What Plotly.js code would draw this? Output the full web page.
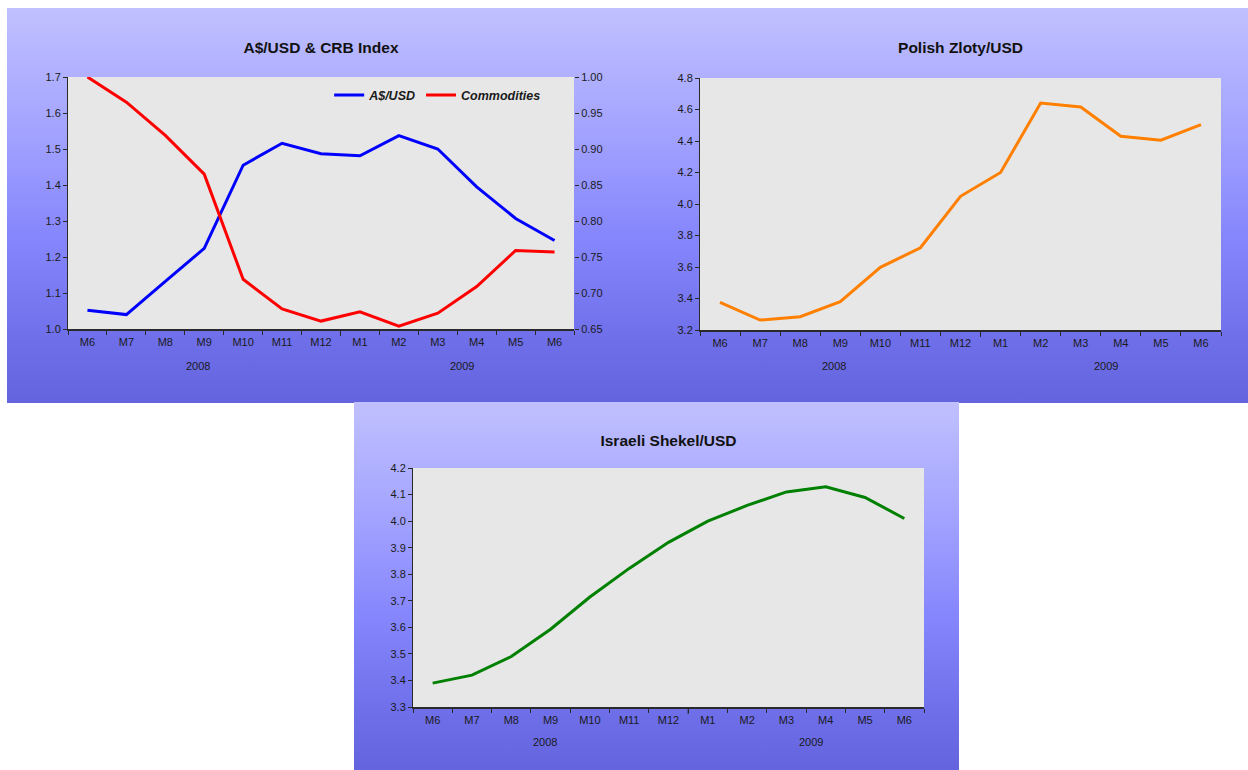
<!DOCTYPE html>
<html>
<head>
<meta charset="utf-8">
<script src="https://cdn.plot.ly/plotly-3.0.1.min.js"></script>
<style>
  html, body { margin: 0; padding: 0; background: #ffffff; width: 1248px; height: 770px; overflow: hidden; }
  .panel {
    position: absolute;
    background: linear-gradient(to bottom, #c0c0ff 0%, #a4a4ff 30%, #8686fd 58%, #6e6ee9 85%, #6464df 100%);
  }
  #p1 { left: 7px; top: 8px; width: 613px; height: 395px; }
  #p2 { left: 620px; top: 8px; width: 628px; height: 395px; }
  #p3 { left: 354px; top: 402px; width: 605px; height: 368px; }
</style>
</head>
<body>
<div id="p1" class="panel"></div>
<div id="p2" class="panel"></div>
<div id="p3" class="panel"></div>
<script>
// Monthly observations, June 2008 – June 2009
const months = ['M6', 'M7', 'M8', 'M9', 'M10', 'M11', 'M12', 'M1', 'M2', 'M3', 'M4', 'M5', 'M6'];
const years = ['2008', '2009'];

// Australian dollars per US dollar
const audUsd = [1.052, 1.040, 1.132, 1.224, 1.455, 1.516, 1.487, 1.481, 1.537, 1.500, 1.395, 1.307, 1.246];
// CRB commodity index, rebased (June 2008 = 1.00)
const commodities = [1.000, 0.965, 0.919, 0.865, 0.719, 0.678, 0.661, 0.674, 0.654, 0.672, 0.709, 0.759, 0.757];
// Polish zloty per US dollar
const plnUsd = [3.375, 3.263, 3.284, 3.380, 3.598, 3.722, 4.049, 4.200, 4.641, 4.616, 4.430, 4.405, 4.504];
// Israeli shekel per US dollar
const ilsUsd = [3.390, 3.420, 3.490, 3.593, 3.714, 3.822, 3.920, 4.000, 4.059, 4.110, 4.129, 4.089, 4.010];

const idx = months.map((_, i) => i);
const yearBreak = months.indexOf('M1') - 0.5;
const FONT = 'Liberation Sans, Arial, Helvetica, sans-serif';
const INK = '#1a1a1a';
const AXIS = '#2a2a2a';

function xAxis() {
  return {
    range: [-0.5, months.length - 0.5],
    tickmode: 'array',
    tickvals: idx,
    ticktext: months,
    ticks: '',
    ticklabelstandoff: 2,
    showline: true,
    linecolor: AXIS,
    linewidth: 2,
    showgrid: false,
    zeroline: false,
    fixedrange: true,
    tickfont: { family: FONT, size: 11, color: INK },
    minor: { tick0: -0.5, dtick: 1, ticks: 'outside', ticklen: 4, tickwidth: 1, tickcolor: AXIS, showgrid: false }
  };
}

function yAxis(lo, hi, step, fmt) {
  return {
    range: [lo, hi],
    tick0: lo,
    dtick: step,
    tickformat: fmt,
    ticks: 'outside',
    ticklen: 4,
    tickwidth: 1,
    tickcolor: AXIS,
    showline: true,
    linecolor: AXIS,
    linewidth: 1,
    showgrid: false,
    zeroline: false,
    fixedrange: true,
    tickfont: { family: FONT, size: 11, color: INK }
  };
}

function yearLabels(yPos) {
  const at = [2.85, 9.63];
  return years.map((y, i) => ({
    text: y, xref: 'x', yref: 'paper', x: at[i], y: yPos,
    xanchor: 'center', yanchor: 'middle', showarrow: false,
    font: { family: FONT, size: 11, color: INK }
  }));
}

function baseLayout(title, w, h, m, titleY, yearY) {
  const plotH = h - m.t - m.b;
  return {
    width: w,
    height: h,
    margin: m,
    paper_bgcolor: 'rgba(0,0,0,0)',
    plot_bgcolor: '#e7e7e7',
    font: { family: FONT, size: 11, color: INK },
    title: {
      text: title,
      font: { family: FONT, size: 15.5, weight: 'bold', color: '#111111' },
      xref: 'paper', x: 0.5, xanchor: 'center',
      yref: 'container', y: 1 - titleY / h, yanchor: 'middle'
    },
    xaxis: xAxis(),
    showlegend: false,
    hovermode: false,
    annotations: yearLabels(yearY),
    // slightly longer tick where the calendar year changes
    shapes: [{
      type: 'line', xref: 'x', yref: 'paper',
      x0: yearBreak, x1: yearBreak, y0: 0, y1: -7 / plotH,
      line: { color: AXIS, width: 1 }
    }]
  };
}

const config = { staticPlot: true, displayModeBar: false };

// Panel 1: A$/USD against the CRB index on a secondary axis
const l1 = baseLayout('A$/USD &amp; CRB Index', 613, 395, { l: 61, r: 46, t: 69, b: 74 }, 40, -0.147);
l1.yaxis = yAxis(1.0, 1.7, 0.1, '.1f');
l1.yaxis2 = Object.assign(yAxis(0.65, 1.0, 0.05, '.2f'), { overlaying: 'y', side: 'right', showline: false });
l1.showlegend = true;
l1.legend = {
  orientation: 'h', x: 0.945, xanchor: 'right', y: 0.987, yanchor: 'top',
  bgcolor: 'rgba(0,0,0,0)', borderwidth: 0, itemwidth: 30, tracegroupgap: 0,
  font: { family: FONT, size: 12.5, weight: 'bold', style: 'italic', color: INK }
};
Plotly.newPlot('p1', [
  { x: idx, y: audUsd, name: 'A$/USD', type: 'scatter', mode: 'lines', line: { color: '#0000ff', width: 3 } },
  { x: idx, y: commodities, name: 'Commodities', type: 'scatter', mode: 'lines', yaxis: 'y2', line: { color: '#ff0000', width: 3 } }
], l1, config);

// Panel 2: Polish zloty
const l2 = baseLayout('Polish Zloty/USD', 628, 395, { l: 80, r: 27, t: 70, b: 73 }, 40, -0.143);
l2.yaxis = yAxis(3.2, 4.8, 0.2, '.1f');
Plotly.newPlot('p2', [
  { x: idx, y: plnUsd, name: 'PLN/USD', type: 'scatter', mode: 'lines', line: { color: '#ff8000', width: 3 } }
], l2, config);

// Panel 3: Israeli shekel
const l3 = baseLayout('Israeli Shekel/USD', 605, 368, { l: 59, r: 35, t: 66, b: 63 }, 39, -0.146);
l3.yaxis = yAxis(3.3, 4.2, 0.1, '.1f');
Plotly.newPlot('p3', [
  { x: idx, y: ilsUsd, name: 'ILS/USD', type: 'scatter', mode: 'lines', line: { color: '#008000', width: 3 } }
], l3, config);
</script>
</body>
</html>
